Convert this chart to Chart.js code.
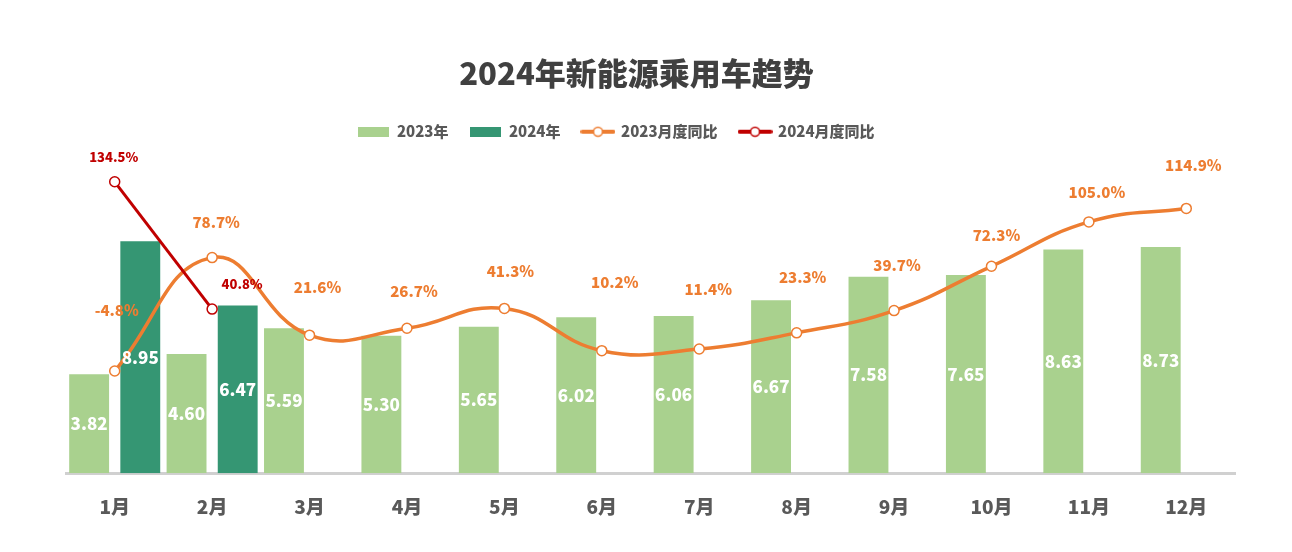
<!DOCTYPE html>
<html>
<head>
<meta charset="utf-8">
<script src="https://cdn.jsdelivr.net/npm/chart.js@4.4.1/dist/chart.umd.min.js"></script>
<style>
  html, body { margin: 0; padding: 0; background: #fff; }
  #wrap { width: 1292px; height: 552px; }
</style>
</head>
<body>
<div id="wrap"><canvas id="c" width="1292" height="552"></canvas></div>
<script>
// chart data
const months = ['1月','2月','3月','4月','5月','6月','7月','8月','9月','10月','11月','12月'];
const sales2023 = [3.82, 4.60, 5.59, 5.30, 5.65, 6.02, 6.06, 6.67, 7.58, 7.65, 8.63, 8.73];
const sales2024 = [8.95, 6.47, null, null, null, null, null, null, null, null, null, null];
const yoy2023 = [-4.8, 78.7, 21.6, 26.7, 41.3, 10.2, 11.4, 23.3, 39.7, 72.3, 105.0, 114.9];
const yoy2024 = [134.5, 40.8, null, null, null, null, null, null, null, null, null, null];

// label nudges (px), like the hand-placed labels in the original
const yoy2023LabelDx = [2, 4, 8, 7, 6, 13, 9, 6, 3, 5, 8, 7];
const yoy2023LabelDy = [-61, -35, -48, -37, -37, -68, -60, -56, -45, -31, -30, -43];
const yoy2024LabelDx = [-1, 30];
const yoy2024LabelDy = [-25, -25];

const FONT = "'Noto Sans CJK SC', 'Microsoft YaHei', sans-serif";
const W = '900';
const C_LIGHT = '#a9d18e';
const C_DARK = '#359673';
const C_ORANGE = '#ed7d31';
const C_RED = '#c00000';
const C_TEXT = '#595959';

// legend icons
function barIcon(color) {
  const cv = document.createElement('canvas');
  cv.width = 31; cv.height = 10;
  const g = cv.getContext('2d');
  g.fillStyle = color;
  g.fillRect(0, 0, 31, 10);
  return cv;
}
function lineIcon(color) {
  const cv = document.createElement('canvas');
  cv.width = 35; cv.height = 12;
  const g = cv.getContext('2d');
  g.strokeStyle = color;
  g.lineWidth = 4;
  g.lineCap = 'round';
  g.beginPath(); g.moveTo(2, 6); g.lineTo(33, 6); g.stroke();
  g.fillStyle = '#fff';
  g.lineWidth = 1.5;
  g.beginPath(); g.arc(17.5, 6, 4.5, 0, Math.PI * 2); g.fill(); g.stroke();
  return cv;
}
const legendIcons = [barIcon(C_LIGHT), barIcon(C_DARK), lineIcon(C_ORANGE), lineIcon(C_RED)];

// title and legend sit a little left of centre in the original
const shiftHeader = {
  id: 'shiftHeader',
  afterLayout(chart) {
    const t = chart.titleBlock, l = chart.legend;
    if (t) { t.left -= 14; t.right -= 14; }
    if (l) { l.left -= 34; l.right -= 34; }
  }
};

// data labels for bars and lines
const valueLabels = {
  id: 'valueLabels',
  afterDatasetsDraw(chart) {
    const ctx = chart.ctx;
    ctx.save();
    ctx.textAlign = 'center';
    ctx.textBaseline = 'middle';
    // bars: white, centred in the bar
    [0, 1].forEach(di => {
      const meta = chart.getDatasetMeta(di);
      const data = chart.data.datasets[di].data;
      ctx.font = W + ' 17px ' + FONT;
      ctx.fillStyle = '#fff';
      meta.data.forEach((el, i) => {
        if (data[i] == null) return;
        ctx.fillText(data[i].toFixed(2), el.x, (el.y + el.base) / 2);
      });
    });
    // 2023 yoy
    let meta = chart.getDatasetMeta(2);
    ctx.font = W + ' 15px ' + FONT;
    ctx.fillStyle = C_ORANGE;
    meta.data.forEach((el, i) => {
      ctx.fillText(yoy2023[i].toFixed(1) + '%', el.x + yoy2023LabelDx[i], el.y + yoy2023LabelDy[i]);
    });
    // 2024 yoy
    meta = chart.getDatasetMeta(3);
    ctx.font = W + ' 13px ' + FONT;
    ctx.fillStyle = C_RED;
    meta.data.forEach((el, i) => {
      if (yoy2024[i] == null) return;
      ctx.fillText(yoy2024[i].toFixed(1) + '%', el.x + yoy2024LabelDx[i], el.y + yoy2024LabelDy[i]);
    });
    ctx.restore();
  }
};

new Chart(document.getElementById('c'), {
  data: {
    labels: months,
    datasets: [
      { type: 'bar', label: '2023年', data: sales2023, backgroundColor: C_LIGHT, yAxisID: 'y', order: 2,
        categoryPercentage: 1.05, barPercentage: 0.78 },
      { type: 'bar', label: '2024年', data: sales2024, backgroundColor: C_DARK, yAxisID: 'y', order: 2,
        categoryPercentage: 1.05, barPercentage: 0.78 },
      { type: 'line', label: '2023月度同比', data: yoy2023, borderColor: C_ORANGE, borderWidth: 3.5,
        tension: 0.45, pointRadius: 5, pointBackgroundColor: '#fff', pointBorderColor: C_ORANGE,
        pointBorderWidth: 1.5, yAxisID: 'y2', order: 1, clip: false },
      { type: 'line', label: '2024月度同比', data: yoy2024, borderColor: C_RED, borderWidth: 3,
        tension: 0, pointRadius: 5, pointBackgroundColor: '#fff', pointBorderColor: C_RED,
        pointBorderWidth: 1.5, yAxisID: 'y2', order: 0, clip: false }
    ]
  },
  options: {
    responsive: false,
    animation: false,
    layout: { padding: { left: 66, right: 57, top: 0, bottom: 12 } },
    plugins: {
      title: {
        display: true,
        text: '2024年新能源乘用车趋势',
        color: '#404040',
        font: { family: FONT, size: 31, weight: W },
        padding: { top: 55, bottom: 10 }
      },
      legend: {
        display: true,
        labels: {
          usePointStyle: true,
          pointStyleWidth: 31,
          boxHeight: 12,
          padding: 22,
          color: C_TEXT,
          font: { family: FONT, size: 15, weight: W },
          generateLabels(chart) {
            const items = Chart.defaults.plugins.legend.labels.generateLabels(chart);
            items.forEach(it => { it.pointStyle = legendIcons[it.datasetIndex]; it.rotation = 0; });
            return items.sort((a, b) => a.datasetIndex - b.datasetIndex);
          }
        }
      },
      tooltip: { enabled: false }
    },
    scales: {
      x: {
        grid: { display: false, drawTicks: false },
        border: { display: true, color: '#d0d0d0', width: 3 },
        ticks: { color: C_TEXT, padding: 22, font: { family: FONT, size: 19, weight: W } }
      },
      y: { display: false, min: 0, max: 12.5 },
      y2: { display: false, min: -80, max: 158.5 }
    }
  },
  plugins: [shiftHeader, valueLabels]
});
</script>
</body>
</html>
